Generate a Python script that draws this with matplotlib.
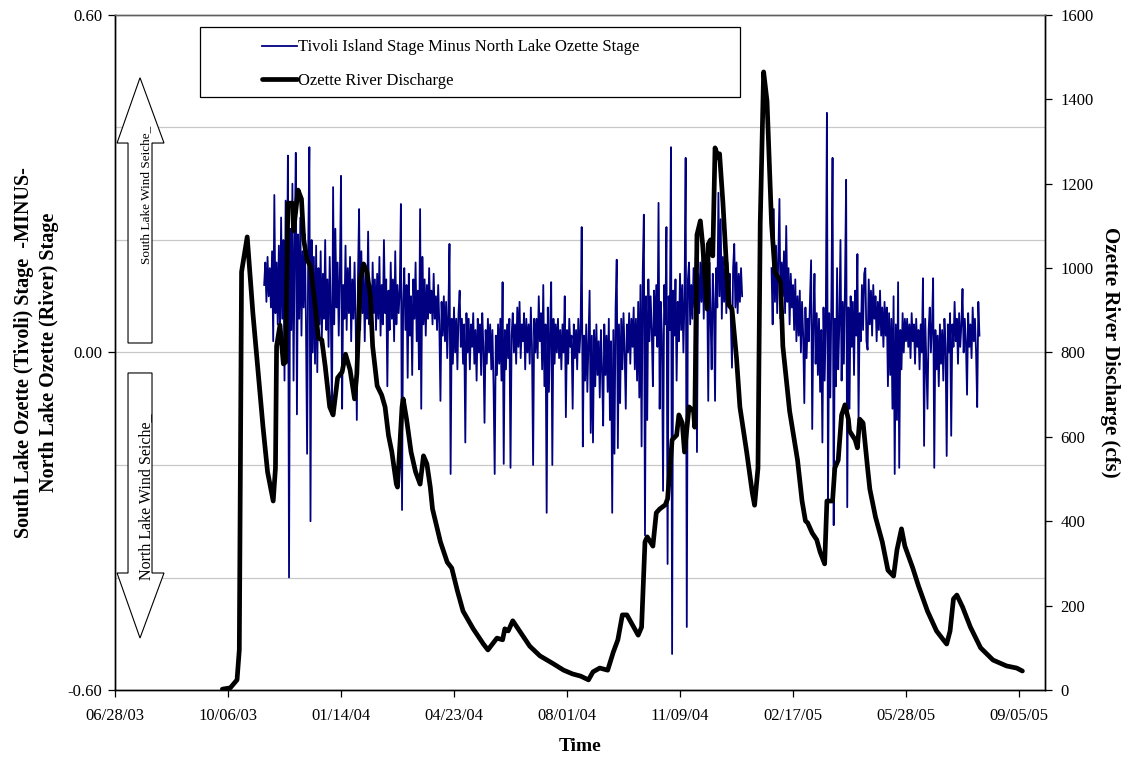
import numpy as np
import matplotlib
matplotlib.use("Agg")
import matplotlib.pyplot as plt
import matplotlib.dates as mdates
import matplotlib.transforms as mtransforms
from matplotlib.patches import Polygon, Rectangle

plt.rcParams['font.family'] = ['Liberation Serif', 'DejaVu Serif']

# ---- data -------------------------------------------------------------
base_date = np.datetime64('2003-06-28')

# Ozette River discharge (cfs), day offsets from base_date
discharge_day = [95, 102, 108, 110, 112, 117, 122, 131, 135, 140, 142, 143, 146, 149, 151,
                 153, 157, 158, 162, 165, 167, 170, 173, 177, 180, 183, 186, 190, 193, 197,
                 201, 204, 208, 212, 214, 217, 220, 223, 226, 228, 232, 236, 239, 242, 245,
                 249, 250, 254, 255, 258, 262, 266, 270, 273, 276, 279, 281, 288, 294, 298,
                 303, 308, 317, 326, 330, 338, 343, 345, 348, 352, 358, 367, 376, 388, 397,
                 405, 412, 419, 423, 429, 436, 441, 445, 449, 453, 458, 463, 466, 469, 471,
                 476, 479, 482, 487, 489, 493, 497, 499, 502, 504, 508, 512, 513, 515, 518,
                 520, 524, 525, 527, 529, 531, 534, 535, 538, 543, 546, 550, 553, 559, 564,
                 566, 569, 571, 574, 577, 581, 584, 589, 591, 597, 604, 608, 611, 613, 617,
                 621, 624, 628, 630, 635, 637, 640, 643, 646, 649, 650, 655, 657, 659, 662,
                 666, 668, 673, 679, 684, 689, 692, 696, 699, 706, 711, 719, 727, 733, 736,
                 739, 742, 745, 750, 757, 766, 777, 789, 798, 803]
discharge_cfs = [2, 5, 24, 95, 991, 1074, 894, 623, 517, 448, 526, 815, 865, 773, 777,
                 1154, 1154, 1088, 1185, 1164, 1067, 1019, 1005, 913, 834, 830, 768, 671, 652, 740,
                 754, 796, 759, 690, 749, 972, 1010, 991, 932, 815, 721, 699, 671, 604, 564,
                 488, 481, 671, 690, 642, 564, 517, 488, 555, 536, 481, 429, 351, 303, 289,
                 235, 187, 145, 109, 95, 123, 119, 145, 140, 164, 140, 104, 81, 62, 47,
                 38, 33, 24, 43, 52, 47, 90, 119, 178, 178, 154, 130, 149, 351, 363,
                 341, 420, 429, 439, 453, 593, 604, 652, 633, 564, 671, 661, 623, 1079, 1112,
                 1057, 903, 1057, 1067, 1029, 1285, 1261, 1271, 1154, 913, 903, 787, 671, 564, 467,
                 438, 526, 1107, 1465, 1396, 1107, 991, 967, 815, 661, 545, 448, 401, 396, 372,
                 356, 327, 299, 448, 448, 526, 545, 652, 676, 642, 614, 593, 574, 642, 633,
                 526, 476, 410, 351, 284, 270, 332, 382, 341, 289, 247, 187, 140, 119, 109,
                 140, 216, 225, 197, 149, 100, 71, 57, 52, 45]

# Tivoli minus North Lake stage (daily), two records separated by a gap
stage_a_start = 132
stage_a = [
    0.12, 0.16, 0.09, 0.17, 0.10, 0.15, 0.08, 0.18, 0.02, 0.28, 0.07, 0.16, 0.05, 0.19, 0.03, 0.24, 0.06, 0.20, -0.05, 0.27,
    0.05, 0.35, -0.40, 0.22, 0.04, 0.30, -0.05, 0.19, 0.355, -0.11, 0.21, 0.06, 0.24, 0.03, 0.18, 0.08, 0.21, 0.05, -0.18, 0.19,
    0.365, -0.30, 0.20, 0.00, 0.17, -0.02, 0.19, -0.035, 0.15, 0.05, 0.18, 0.02, 0.14, 0.06, 0.20, 0.04, 0.13, 0.01, 0.17, 0.07,
    -0.11, 0.294, 0.05, 0.22, 0.08, 0.16, 0.03, 0.14, 0.314, -0.10, 0.12, 0.06, 0.19, 0.04, 0.15, 0.07, 0.17, 0.02, 0.13, 0.06,
    0.16, 0.05, -0.12, 0.13, 0.255, 0.04, 0.18, 0.07, 0.15, 0.02, 0.14, 0.06, 0.215, 0.05, 0.12, 0.03, 0.16, 0.07, 0.13, 0.04,
    0.14, 0.06, 0.17, 0.03, 0.12, 0.05, 0.20, 0.07, 0.13, -0.06, 0.11, 0.04, 0.16, 0.06, 0.13, 0.02, 0.18, 0.05, 0.12, 0.07,
    0.11, 0.264, -0.28, 0.09, 0.15, 0.04, 0.12, -0.045, 0.14, 0.03, 0.10, -0.04, 0.13, 0.06, 0.16, 0.02, 0.11, -0.03, 0.255, -0.10,
    0.17, 0.05, 0.13, 0.03, 0.12, 0.06, 0.15, 0.07, 0.11, 0.05, 0.14, 0.06, 0.10, 0.04, 0.12, 0.05, -0.086, 0.09, 0.03, 0.10,
    0.02, 0.09, -0.01, 0.07, 0.193, -0.216, 0.06, -0.02, 0.08, 0.00, 0.06, -0.03, 0.07, 0.11, 0.01, 0.06, -0.02, 0.05, -0.16, 0.07,
    0.00, 0.06, -0.03, 0.05, 0.01, 0.07, -0.02, 0.04, -0.05, 0.06, 0.00, 0.05, -0.04, 0.07, 0.01, -0.125, 0.04, -0.02, 0.06, 0.00,
    0.05, -0.03, 0.04, -0.06, -0.216, 0.03, -0.04, 0.05, -0.02, 0.06, -0.05, 0.125, -0.198, 0.04, -0.03, 0.05, -0.01, 0.06, -0.205, 0.03,
    0.07, 0.00, 0.05, -0.02, 0.08, 0.01, 0.09, -0.01, 0.05, 0.02, 0.07, -0.03, 0.06, 0.00, 0.05, -0.02, 0.08, 0.01, -0.20, 0.06,
    0.00, 0.06, -0.01, 0.10, 0.02, 0.07, -0.03, 0.12, -0.06, 0.05, -0.285, 0.08, -0.07, 0.04, 0.125, -0.20, 0.06, -0.02, 0.05, 0.00,
    0.06, -0.01, 0.04, -0.03, 0.05, 0.00, 0.10, -0.115, 0.04, -0.02, 0.06, 0.01, 0.03, -0.10, 0.05, -0.01, 0.04, -0.03, 0.06, 0.00,
    0.04, 0.223, -0.167, 0.03, -0.05, 0.05, -0.07, 0.02, 0.11, -0.143, 0.03, -0.16, 0.04, -0.06, 0.05, -0.04, 0.02, -0.08, 0.04, -0.03,
    -0.13, 0.05, -0.04, 0.03, -0.07, 0.06, -0.12, 0.02, -0.285, 0.04, -0.18, 0.08, 0.165, -0.17, 0.05, -0.09, 0.06, -0.03, 0.07, 0.00,
    -0.10, 0.05, 0.00, 0.07, -0.02, 0.06, 0.01, 0.08, -0.03, 0.06, -0.05, 0.09, -0.08, 0.12, -0.167, 0.14, 0.245, -0.325, 0.10, -0.12,
    0.13, 0.02, 0.10, 0.04, -0.06, 0.11, 0.03, 0.12, 0.01, 0.266, -0.10, 0.09, 0.03, -0.246, 0.12, 0.05, 0.223, -0.376, 0.10, 0.04,
    0.365, -0.536, 0.11, 0.03, 0.13, -0.05, 0.09, 0.02, 0.14, 0.04, 0.12, 0.00, 0.10, 0.346, -0.488, 0.13, 0.16, 0.05, 0.12, 0.06,
    0.15, 0.08, 0.17, -0.177, 0.14, 0.07, 0.16, 0.09, 0.18, 0.06, 0.15, 0.08, 0.13, -0.086, 0.16, 0.07, -0.03, 0.14, 0.09, -0.086,
    0.15, 0.08, 0.284, 0.10, 0.237, 0.06, 0.17, 0.09, 0.15, 0.07, 0.16, 0.10, 0.14, 0.06, -0.027, 0.15, 0.193, 0.08, 0.16, 0.07,
    0.14, 0.09, 0.15, 0.10,
]
stage_b_start = 581
stage_b = [
    0.15, 0.05, 0.255, 0.09, 0.19, 0.07, 0.17, 0.273, 0.06, 0.16, 0.10, 0.18, 0.07, 0.225, 0.09, 0.15, 0.05, 0.14, 0.08, 0.12,
    0.04, 0.13, 0.02, 0.10, 0.03, 0.11, 0.00, 0.09, 0.03, -0.09, 0.08, -0.01, 0.06, 0.02, 0.09, 0.164, -0.136, 0.05, 0.14, -0.02,
    0.07, -0.04, 0.06, -0.07, 0.04, -0.16, 0.08, -0.05, 0.05, 0.426, -0.264, 0.07, -0.08, 0.10, 0.346, -0.307, 0.06, -0.06, 0.15, -0.03,
    0.05, 0.20, -0.05, 0.09, -0.02, 0.12, 0.307, -0.275, 0.08, -0.10, 0.10, 0.01, 0.09, -0.04, 0.11, 0.03, 0.175, -0.12, 0.07, 0.02,
    0.12, 0.04, 0.14, 0.15, 0.02, 0.005, 0.13, 0.05, 0.11, 0.03, 0.12, 0.06, 0.10, 0.02, 0.09, 0.04, 0.11, 0.03, 0.08, 0.01,
    0.09, 0.03, 0.08, -0.06, 0.07, -0.04, 0.06, -0.10, 0.10, -0.216, 0.05, -0.12, 0.125, -0.205, 0.04, -0.03, 0.07, 0.00, 0.06, 0.02,
    0.06, 0.01, 0.05, -0.01, 0.07, 0.02, 0.05, -0.02, 0.06, 0.01, 0.04, -0.03, 0.05, 0.00, 0.132, -0.166, 0.06, -0.02, -0.10, 0.04,
    0.08, 0.00, 0.05, 0.132, -0.205, 0.04, -0.03, 0.03, -0.06, 0.05, -0.02, 0.04, -0.05, 0.06, 0.01, -0.184, 0.05, 0.00, 0.07, -0.148,
    0.05, 0.01, 0.09, 0.02, 0.06, -0.02, 0.07, 0.01, 0.05, 0.113, 0.00, 0.06, 0.02, -0.075, 0.07, 0.01, 0.05, -0.01, 0.08, 0.02,
    0.06, 0.00, -0.097, 0.09, 0.03,
]

x_tick_days = [0, 100, 200, 300, 400, 500, 600, 700, 800]
left_ticks = [-0.6, 0.0, 0.6]
grid_levels = [-0.4, -0.2, 0.0, 0.2, 0.4]
right_ticks = [0, 200, 400, 600, 800, 1000, 1200, 1400, 1600]

# ---- figure -----------------------------------------------------------
fig = plt.figure(figsize=(11.26, 7.61), dpi=100)
ax = fig.add_axes([115 / 1126, 1 - 690 / 761, 930 / 1126, 675 / 761])
ax2 = ax.twinx()

for g in grid_levels:
    ax.axhline(g, color='#c8c8c8', lw=0.9, zorder=0)

days_a = base_date + np.arange(stage_a_start, stage_a_start + len(stage_a))
days_b = base_date + np.arange(stage_b_start, stage_b_start + len(stage_b))
stage_line, = ax.plot(days_a, stage_a, color='#000080', lw=1.3, zorder=2)
ax.plot(days_b, stage_b, color='#000080', lw=1.3, zorder=2)

q_dates = base_date + np.array(discharge_day)
q_line, = ax2.plot(q_dates, discharge_cfs, color='black', lw=3.4,
                   solid_joinstyle='round', solid_capstyle='round')

ax.set_ylim(-0.6, 0.6)
ax2.set_ylim(0, 1600)
ax.set_xlim(base_date, base_date + 823)

ax.set_yticks(left_ticks)
ax.set_yticklabels(['%.2f' % v for v in left_ticks])
ax2.set_yticks(right_ticks)
ax.set_xticks([base_date + d for d in x_tick_days])
ax.xaxis.set_major_formatter(mdates.DateFormatter('%m/%d/%y'))

for a in (ax, ax2):
    a.tick_params(labelsize=12, direction='out', length=5, width=0.9, colors='black')
    for s in a.spines.values():
        s.set_linewidth(1.0)
ax.tick_params(axis='x', pad=8)
ax.tick_params(axis='y', pad=4)
ax2.tick_params(axis='y', pad=6)
ax.spines['top'].set_color('#606060')
ax2.spines['top'].set_color('#606060')

ax.set_xlabel('Time', fontsize=14, fontweight='bold', labelpad=10)
ax.set_ylabel('South Lake Ozette (Tivoli) Stage  -MINUS-\nNorth Lake Ozette (River) Stage',
              fontsize=14.5, fontweight='bold', labelpad=6, linespacing=1.35)
ax2.set_ylabel('Ozette River Discharge (cfs)', fontsize=15, fontweight='bold',
               rotation=270, labelpad=19)

# seiche arrows
trans = mtransforms.blended_transform_factory(ax.transAxes, ax.transData)
x_l, x_sl, x_c, x_sr, x_r = 0.0022, 0.014, 0.0269, 0.0398, 0.0527
up = [(x_c, 0.4885), (x_r, 0.3724), (x_sr, 0.3724), (x_sr, 0.0169),
      (x_sl, 0.0169), (x_sl, 0.3724), (x_l, 0.3724)]
down = [(x_sl, -0.0364), (x_sr, -0.0364), (x_sr, -0.392), (x_r, -0.392),
        (x_c, -0.5076), (x_l, -0.392), (x_sl, -0.392)]
for pts in (up, down):
    ax.add_patch(Polygon(pts, closed=True, facecolor='white', edgecolor='black',
                         lw=0.8, transform=trans, zorder=3, clip_on=False))
ax.text(0.0333, 0.28, 'South Lake Wind Seiche_', rotation=90, fontsize=9.5,
        ha='center', va='center', transform=trans, zorder=4)
ax.text(0.0340, -0.257, 'North Lake Wind Seiche_', rotation=90, fontsize=11.5,
        ha='center', va='center', transform=trans, zorder=4)

# legend box
fig.patches.append(Rectangle((200 / 1126, 1 - 97 / 761), 540 / 1126, 70 / 761,
                             transform=fig.transFigure, facecolor='white',
                             edgecolor='black', lw=0.9, zorder=5))
leg = fig.legend([stage_line, q_line],
                 ['Tivoli Island Stage Minus North Lake Ozette Stage', 'Ozette River Discharge'],
                 loc='upper left', bbox_to_anchor=(254 / 1126, 1 - 31 / 761),
                 frameon=False, fontsize=12, handlelength=2.1, handletextpad=0.05,
                 labelspacing=1.05, borderpad=0.0)
leg.set_zorder(6)

fig.savefig('out.png', dpi=100)
